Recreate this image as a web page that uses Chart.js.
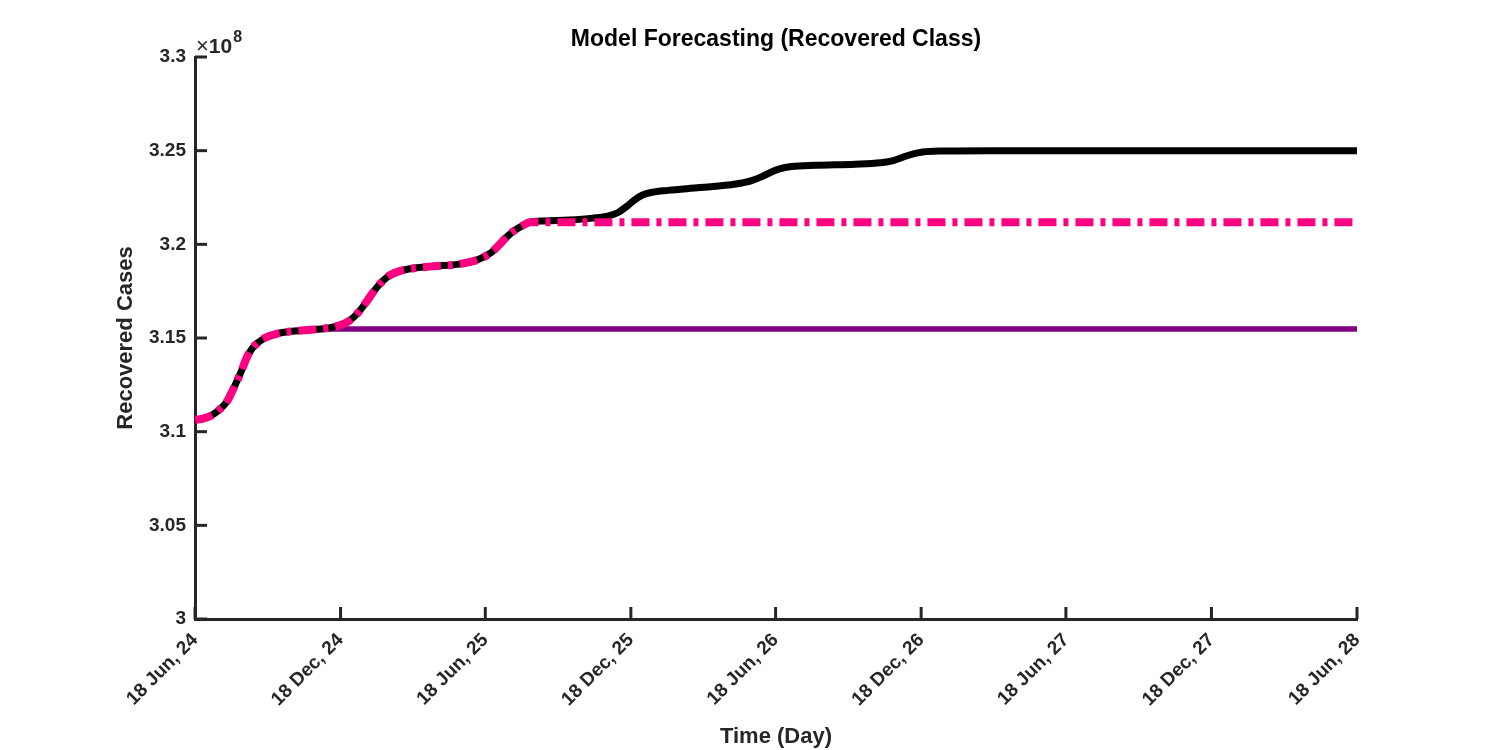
<!DOCTYPE html>
<html>
<head>
<meta charset="utf-8">
<script src="https://cdn.jsdelivr.net/npm/chart.js@4.4.1/dist/chart.umd.min.js"></script>
<style>
    html, body { margin: 0; padding: 0; background: #fff; }
    #wrap { width: 1500px; height: 750px; }
</style>
</head>
<body>
<div id="wrap"><canvas id="chart" width="1500" height="750"></canvas></div>
<script>
// days since 18 Jun 2024, values in units of 1e8
const modelDays = [0, 10, 20, 30, 40, 50, 58, 65, 72, 80, 90, 105, 125, 150, 170, 185, 195, 205, 215, 225, 235, 245,
    258, 275, 300, 330, 350, 362, 372, 382, 392, 402, 412, 421, 440, 470, 500, 520, 532, 542, 552, 562, 575, 595,
    635, 680, 700, 712, 724, 735, 750, 780, 830, 862, 878, 890, 902, 915, 935, 1000, 1461];
const modelValues = [3.1063, 3.1070, 3.1085, 3.1115, 3.1160, 3.1245, 3.1320, 3.1395, 3.1445, 3.1478, 3.1505,
    3.1525, 3.1537, 3.1545, 3.1555, 3.1572, 3.1595, 3.1635, 3.1690, 3.1750, 3.1800, 3.1835, 3.1858, 3.1872,
    3.1883, 3.1893, 3.1910, 3.1930, 3.1955, 3.1995, 3.2040, 3.2075, 3.2100, 3.2118, 3.2125, 3.2130, 3.2140,
    3.2152, 3.2170, 3.2200, 3.2235, 3.2262, 3.2278, 3.2288, 3.2303, 3.2322, 3.2340, 3.2360, 3.2385, 3.2403,
    3.2415, 3.2422, 3.2428, 3.2436, 3.2447, 3.2465, 3.2482, 3.2493, 3.2498, 3.2500, 3.2500];

const pinkDays = [0, 10, 20, 30, 40, 50, 58, 65, 72, 80, 90, 105, 125, 150, 170, 185, 195, 205, 215, 225, 235, 245,
    258, 275, 300, 330, 350, 362, 372, 382, 392, 402, 412, 421, 1461];
const pinkValues = [3.1063, 3.1070, 3.1085, 3.1115, 3.1160, 3.1245, 3.1320, 3.1395, 3.1445, 3.1478, 3.1505,
    3.1525, 3.1537, 3.1545, 3.1555, 3.1572, 3.1595, 3.1635, 3.1690, 3.1750, 3.1800, 3.1835, 3.1858, 3.1872,
    3.1883, 3.1893, 3.1910, 3.1930, 3.1955, 3.1995, 3.2040, 3.2075, 3.2100, 3.2118, 3.2118];

const purpleDays = [0, 10, 20, 30, 40, 50, 58, 65, 72, 80, 90, 105, 125, 150, 162, 1461];
const purpleValues = [3.1063, 3.1070, 3.1085, 3.1115, 3.1160, 3.1245, 3.1320, 3.1395, 3.1445, 3.1478, 3.1505,
    3.1525, 3.1537, 3.1545, 3.1548, 3.1548];

const tickDays = [0, 183, 365, 548, 730, 913, 1095, 1278, 1461];
const tickLabels = ['18 Jun, 24', '18 Dec, 24', '18 Jun, 25', '18 Dec, 25', '18 Jun, 26',
    '18 Dec, 26', '18 Jun, 27', '18 Dec, 27', '18 Jun, 28'];

const toPoints = (xs, ys) => xs.map((x, i) => ({ x: x, y: ys[i] }));

const AXIS_COLOR = '#262626';
const FONT = '"Liberation Sans", Arial, sans-serif';

// MATLAB style inward ticks plus title / axis labels / exponent
const decorPlugin = {
    id: 'decor',
    afterDraw(chart) {
        const { ctx, chartArea, scales } = chart;
        ctx.save();
        ctx.strokeStyle = AXIS_COLOR;
        ctx.lineWidth = 3;
        scales.x.ticks.forEach(t => {
            const px = scales.x.getPixelForValue(t.value);
            ctx.beginPath();
            ctx.moveTo(px, chartArea.bottom);
            ctx.lineTo(px, chartArea.bottom - 12);
            ctx.stroke();
        });
        scales.y.ticks.forEach(t => {
            const py = scales.y.getPixelForValue(t.value);
            ctx.beginPath();
            ctx.moveTo(chartArea.left, py);
            ctx.lineTo(chartArea.left + 12, py);
            ctx.stroke();
        });

        const cx = (chartArea.left + chartArea.right) / 2;
        ctx.fillStyle = '#000';
        ctx.textAlign = 'center';
        ctx.textBaseline = 'middle';
        ctx.font = 'bold 23px ' + FONT;
        ctx.fillText('Model Forecasting (Recovered Class)', cx, 40);

        ctx.fillStyle = AXIS_COLOR;
        ctx.font = 'bold 22px ' + FONT;
        ctx.fillText('Time (Day)', cx, 737);

        ctx.save();
        ctx.translate(126, (chartArea.top + chartArea.bottom) / 2);
        ctx.rotate(-Math.PI / 2);
        ctx.fillText('Recovered Cases', 0, 0);
        ctx.restore();

        ctx.textAlign = 'left';
        ctx.textBaseline = 'alphabetic';
        ctx.font = '22px ' + FONT;
        ctx.fillText('\u00d7', chartArea.left + 1, 53);
        const wx = ctx.measureText('\u00d7').width;
        ctx.font = 'bold 21px ' + FONT;
        ctx.fillText('10', chartArea.left + 1 + wx, 53);
        const w10 = ctx.measureText('10').width;
        ctx.font = 'bold 16px ' + FONT;
        ctx.fillText('8', chartArea.left + 2 + wx + w10, 42);
        ctx.restore();
    }
};

new Chart(document.getElementById('chart'), {
    type: 'line',
    data: {
        datasets: [
            {
                label: 'Forecast (pink)',
                data: toPoints(pinkDays, pinkValues),
                borderColor: 'rgb(255, 0, 128)',
                borderWidth: 8,
                borderDash: [18, 7, 5, 7],
                cubicInterpolationMode: 'monotone',
                pointRadius: 0,
                order: 0
            },
            {
                label: 'Model',
                data: toPoints(modelDays, modelValues),
                borderColor: '#000000',
                borderWidth: 7,
                borderCapStyle: 'round',
                cubicInterpolationMode: 'monotone',
                pointRadius: 0,
                order: 1
            },
            {
                label: 'Forecast (purple)',
                data: toPoints(purpleDays, purpleValues),
                borderColor: 'rgb(128, 0, 128)',
                borderWidth: 5.5,
                cubicInterpolationMode: 'monotone',
                pointRadius: 0,
                order: 2
            }
        ]
    },
    options: {
        responsive: false,
        animation: false,
        devicePixelRatio: 1,
        layout: { padding: { top: 57, right: 143, left: 0, bottom: 0 } },
        plugins: {
            legend: { display: false },
            tooltip: { enabled: false },
            title: { display: false }
        },
        scales: {
            x: {
                type: 'linear',
                min: 0,
                max: 1461,
                afterFit: s => { s.height = 131; },
                afterBuildTicks: s => { s.ticks = tickDays.map(v => ({ value: v })); },
                grid: { display: false, drawTicks: false },
                border: { display: true, color: AXIS_COLOR, width: 3 },
                ticks: {
                    autoSkip: false,
                    minRotation: 45,
                    maxRotation: 45,
                    padding: 10,
                    color: AXIS_COLOR,
                    font: { family: FONT, size: 19, weight: 'bold' },
                    callback: v => tickLabels[tickDays.indexOf(v)]
                }
            },
            y: {
                type: 'linear',
                min: 3,
                max: 3.3,
                afterFit: s => { s.width = 195; },
                grid: { display: false, drawTicks: false },
                border: { display: true, color: AXIS_COLOR, width: 3 },
                ticks: {
                    stepSize: 0.05,
                    padding: 9,
                    color: AXIS_COLOR,
                    font: { family: FONT, size: 19, weight: 'bold' },
                    callback: v => String(Number(v.toFixed(2)))
                }
            }
        }
    },
    plugins: [decorPlugin]
});
</script>
</body>
</html>
